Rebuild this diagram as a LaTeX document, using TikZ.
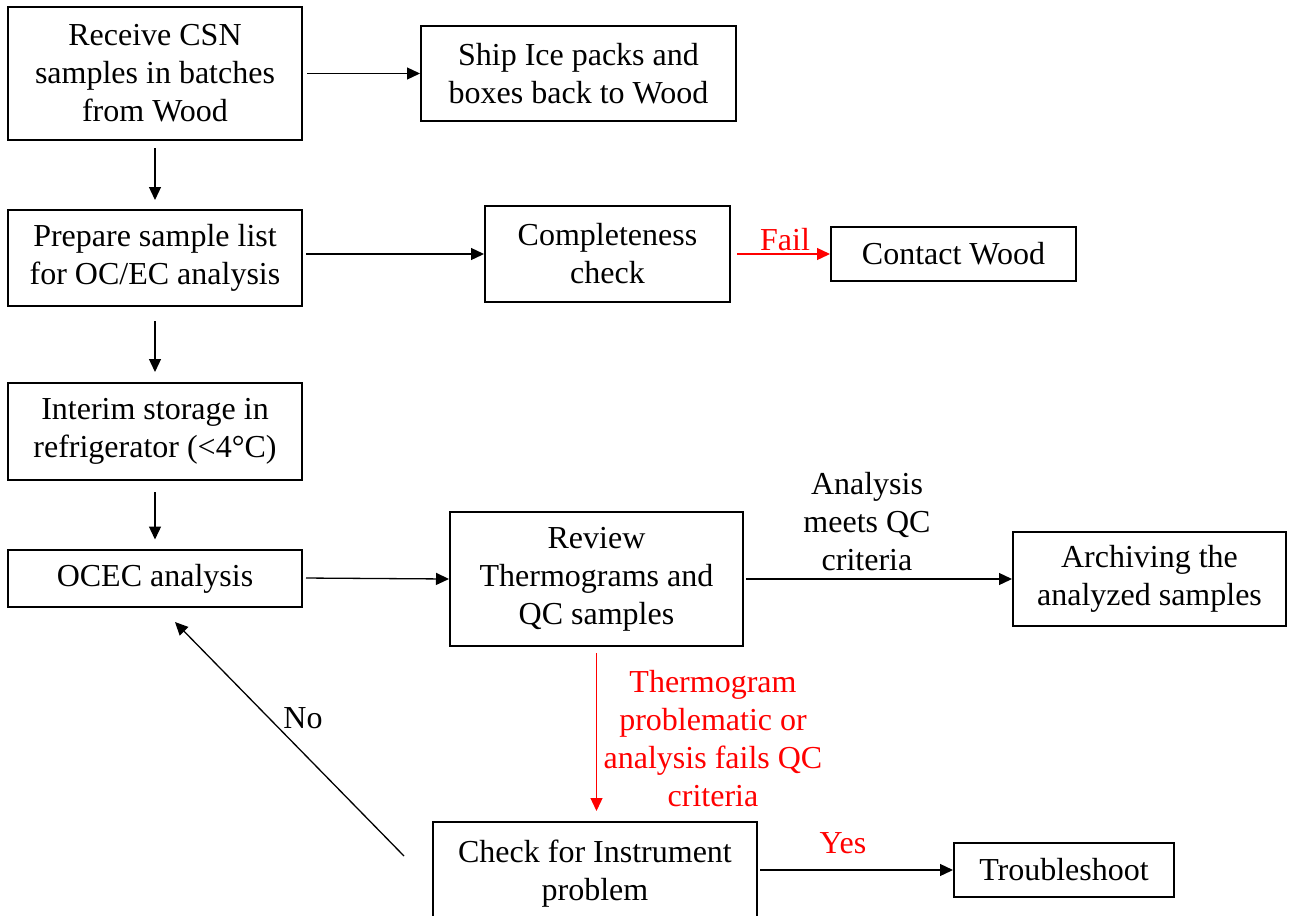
\documentclass[tikz,border=0pt]{standalone}
\usepackage{fontspec}
\setmainfont{Liberation Serif}
\usetikzlibrary{arrows.meta}
\definecolor{lblred}{RGB}{255,0,0}
\begin{document}
\begin{tikzpicture}[x=0.5pt,y=-0.5pt,
  every node/.style={font=\fontsize{16pt}{19pt}\selectfont, align=center, inner sep=0pt},
  box/.style={draw, line width=1pt, fill=white},
  arr/.style={-{Triangle[length=6.5pt,width=6pt]}, line width=0.65pt},
  redarr/.style={arr, draw=lblred},
  lbl/.style={},
  redlbl/.style={text=lblred}]
\useasboundingbox[fill=white] (0,0) rectangle (1291,916);
\node[box, minimum width=147pt, minimum height=66.5pt] (recv) at (155,73.5) {Receive CSN\\samples in batches\\from Wood};
\node[box, minimum width=157.5pt, minimum height=47.5pt] (ship) at (578.5,73.5) {Ship Ice packs and\\boxes back to Wood};
\node[box, minimum width=147pt, minimum height=48pt] (prep) at (155,258) {Prepare sample list\\for OC/EC analysis};
\node[box, minimum width=122.5pt, minimum height=48pt] (compl) at (607.5,254) {Completeness\\check};
\node[box, minimum width=122.5pt, minimum height=27pt] (contact) at (953.5,254) {Contact Wood};
\node[box, minimum width=147pt, minimum height=48.5pt] (interim) at (155,431.5) {Interim storage in\\refrigerator (<4°C)};
\node[box, minimum width=147pt, minimum height=28.5pt, text depth=2.5pt] (ocec) at (155,578) {OCEC analysis};
\node[box, minimum width=146.5pt, minimum height=67pt] (review) at (596.5,579) {Review\\Thermograms and\\QC samples};
\node[box, minimum width=136.5pt, minimum height=47pt] (archive) at (1149.5,579) {Archiving the\\analyzed samples};
\node[box, minimum width=162pt, minimum height=52pt] (check) at (595,874) {Check for Instrument\\problem};
\node[box, minimum width=110pt, minimum height=27pt] (trouble) at (1064,870) {Troubleshoot};

\coordinate (nostart) at (404,856);
\coordinate (noend) at (175,622);

\draw[arr, shorten <=2pt] (recv.east) -- (ship.west);
\draw[arr, shorten <=3.5pt, shorten >=4.5pt] (recv.south) -- (prep.north);
\draw[arr, shorten <=1.5pt] (prep.east |- compl.west) -- (compl.west);
\draw[arr, shorten <=7pt, shorten >=5pt] (prep.south) -- (interim.north);
\draw[arr, shorten <=5.5pt, shorten >=4.5pt] (interim.south) -- (ocec.north);
\draw[redarr, shorten <=3pt] (compl.east) -- (contact.west);
\draw[arr, shorten <=1.5pt] (ocec.east) -- (review.west);
\draw[arr, shorten <=1pt] (review.east) -- (archive.west);
\draw[redarr, shorten <=3pt, shorten >=5pt] (review.south) -- (review.south |- check.north);
\draw[arr] (nostart) -- (noend);
\draw[arr, shorten <=1pt] (check.east |- trouble.west) -- (trouble.west);

\node[redlbl] (faillbl) at (785,240) {Fail};
\node[lbl] (meetslbl) at (867,522) {Analysis\\meets QC\\criteria};
\node[redlbl] (faillbl2) at (713,739) {Thermogram\\problematic or\\analysis fails QC\\criteria};
\node[lbl] (nolbl) at (303,718) {No};
\node[redlbl] (yeslbl) at (843,843) {Yes};
\end{tikzpicture}
\end{document}
